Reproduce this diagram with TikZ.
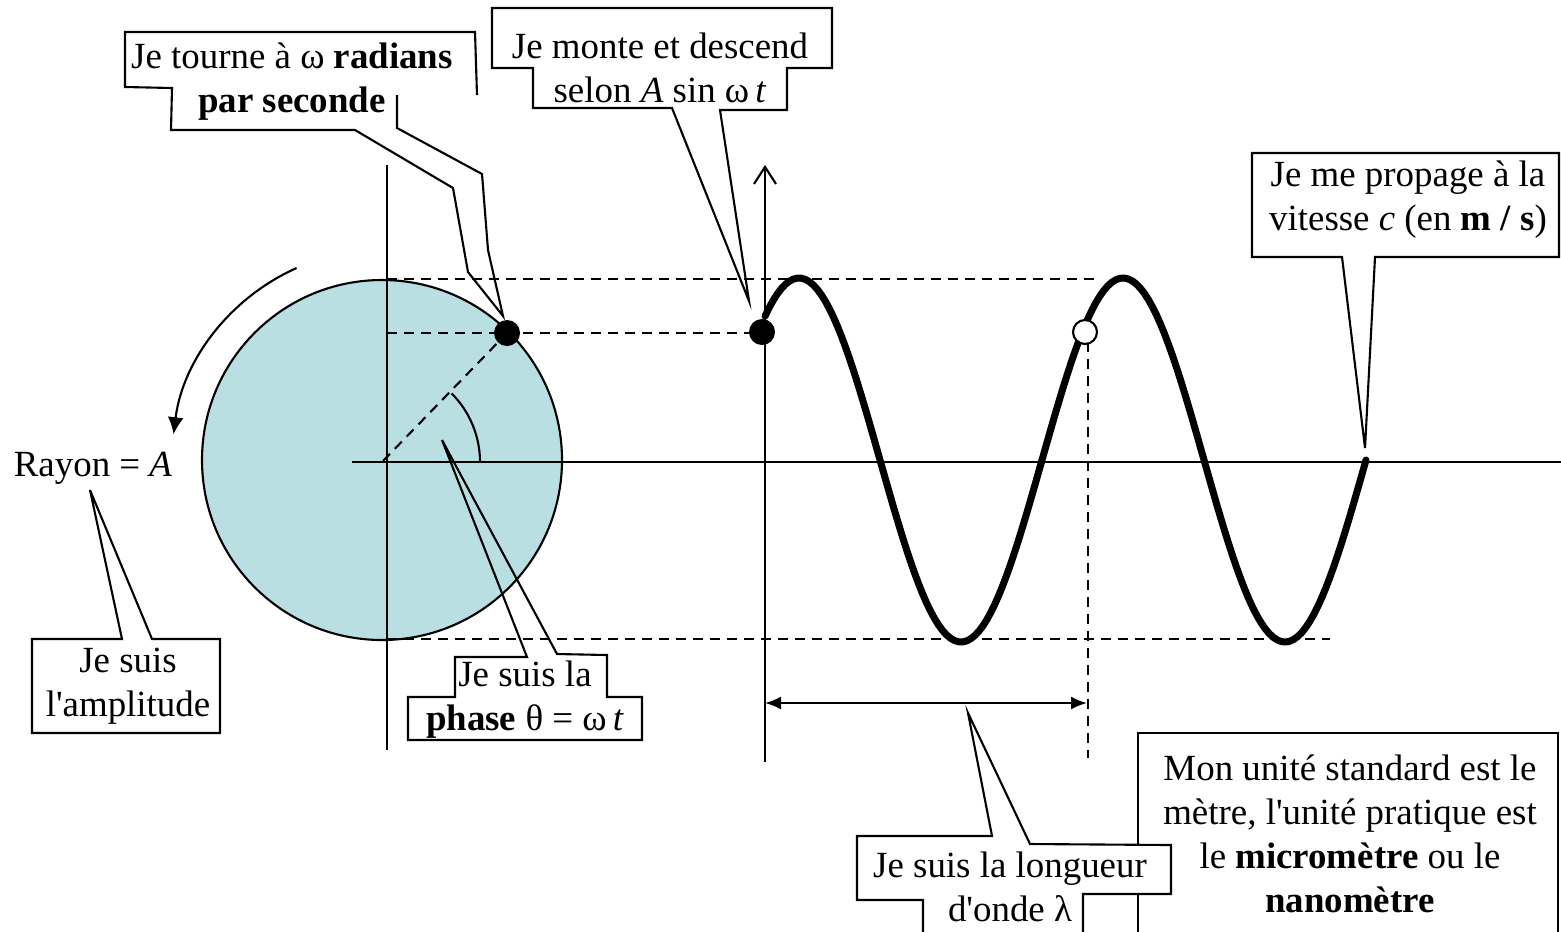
\documentclass[tikz,border=0pt]{standalone}
\usepackage{fontspec}
\setmainfont{Liberation Serif}
\usetikzlibrary{arrows.meta}
\definecolor{disque}{RGB}{186,223,227}
\tikzset{
  txt/.style={align=center, inner sep=0pt, font=\fontsize{10.5}{12.5}\selectfont},
  bulle/.style={line width=0.6pt, line join=miter},
  axe/.style={line width=0.6pt},
  tiret/.style={line width=0.6pt, dash pattern=on 1mm off 0.7mm},
  onde/.style={line width=2pt, line cap=round, line join=round},
  point/.style={line width=0.6pt}
}

\begin{document}
\begin{tikzpicture}[x=0.1mm, y=-0.1mm, >=latex]
\useasboundingbox (0,0) rectangle (1561,931);
% le disque et ses axes
\filldraw[axe, fill=disque] (382,460) circle[radius=18mm];
\draw[axe] (387,165) -- (387,750);
\draw[axe, -{Straight Barb[length=1.7mm,width=2.2mm]}] (765,762) -- (765,165);
\draw[axe] (352,462) -- (1561,462);
\draw[tiret] (387,279) -- (1095,279);
\draw[tiret] (387,333) -- (760,333);
\draw[tiret] (387,639) -- (1330,639);
\draw[tiret] (383,461) -- (507,333);
\draw[tiret] (1088,342) -- (1088,758);
\draw[axe] (480,462) arc[start angle=0, end angle=45, radius=9.7mm];
\draw[axe, -{Latex[length=1.7mm,width=1.6mm]}] (296.6,268) arc[start angle=114, end angle=173, radius=21mm];
\draw[axe, {Latex[length=1.6mm,width=1.3mm]}-{Latex[length=1.6mm,width=1.3mm]}] (765,703) -- (1087,703);
% l'onde
\draw[onde] plot[domain=765:1366, samples=150] (\x, {460-182*sin((\x-718)/324*360)});
\fill (507,333) circle[radius=1.3mm];
\fill (762,332) circle[radius=1.3mm];
\filldraw[point, fill=white] (1085,332) circle[radius=1.2mm];
% pointes des bulles
\coordinate (pTourne) at (503,316);
\coordinate (pMonte) at (749,301);
\coordinate (pPropage) at (1365,448);
\coordinate (pRayon) at (90,490);
\coordinate (pPhase) at (442,440);
\coordinate (pLambda) at (968,713);
% bulles
\draw[bulle] (477,95) -- (475,32) -- (125,32) -- (125,87) -- (172,88) -- (171,130) -- (355,130) -- (453,188) -- (468,272) -- (pTourne) -- (488,250) -- (482,174) -- (397,128) -- (397,95);
\draw[bulle] (492,8) -- (832,8) -- (832,68) -- (787,68) -- (787,110) -- (720,110) -- (pMonte) -- (672,108) -- (533,108) -- (533,68) -- (492,68) -- cycle;
\draw[bulle] (1252,153) -- (1559,153) -- (1559,257) -- (1375,257) -- (pPropage) -- (1342,257) -- (1252,257) -- cycle;
\draw[bulle] (32,639) -- (122,639) -- (pRayon) -- (152,639) -- (220,639) -- (220,733) -- (32,733) -- cycle;
\draw[bulle] (455,657) -- (527,657) -- (pPhase) -- (557,654) -- (607,655) -- (607,697) -- (642,697) -- (642,740) -- (408,740) -- (408,697) -- (455,697) -- cycle;
\draw[bulle] (1138,940) -- (1138,733) -- (1558,733) -- (1558,940);
\filldraw[bulle, fill=white] (923,940) -- (923,900) -- (857,900) -- (857,836) -- (992,836) -- (pLambda) -- (1030,844) -- (1171,845) -- (1171,894) -- (1083,894) -- (1083,940);
% textes
\node[txt] (tourne) at (292,82) {Je tourne à ω \textbf{radians}\\\textbf{par seconde}};
\node[txt] (monte) at (660,68) {Je monte et descend\\selon \textit{A} sin ω\,\textit{t}};
\node[txt] (propage) at (1408,200) {Je me propage à la\\vitesse \textit{c} (en \textbf{m / s})};
\node[txt] (rayon) at (93,468) {Rayon = \textit{A}};
\node[txt] (ampli) at (128,686) {Je suis\\l\textquotesingle amplitude};
\node[txt] (phase) at (525,700) {Je suis la\\\textbf{phase} θ = ω\,\textit{t}};
\node[txt] (longueur) at (1010,887) {Je suis la longueur\\d\textquotesingle onde λ};
\node[txt] (unite) at (1350,834) {Mon unité standard est le\\mètre, l\textquotesingle unité pratique est\\le \textbf{micromètre} ou le\\\textbf{nanomètre}};
\end{tikzpicture}
\end{document}
